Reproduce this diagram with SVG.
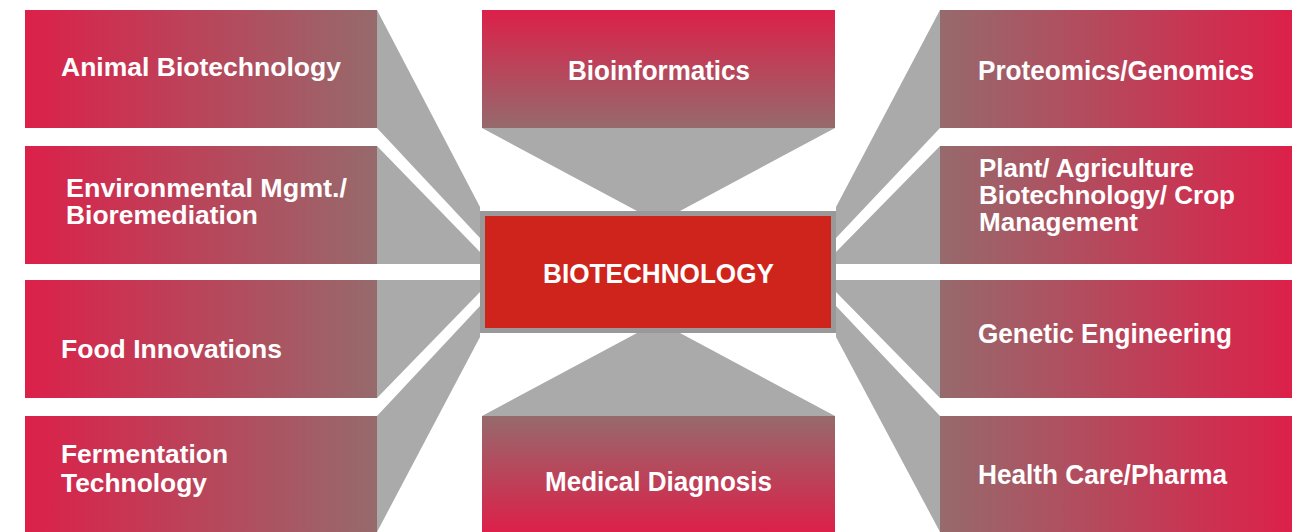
<svg xmlns="http://www.w3.org/2000/svg" width="1296" height="532" viewBox="0 0 1296 532">
  <defs>
    <linearGradient id="gL" x1="0" y1="0" x2="1" y2="0">
      <stop offset="0" stop-color="#DC2049"/>
      <stop offset="1" stop-color="#966A6C"/>
    </linearGradient>
    <linearGradient id="gR" x1="0" y1="0" x2="1" y2="0">
      <stop offset="0" stop-color="#966A6C"/>
      <stop offset="1" stop-color="#DC2049"/>
    </linearGradient>
    <linearGradient id="gT" x1="0" y1="0" x2="0" y2="1">
      <stop offset="0" stop-color="#DC2049"/>
      <stop offset="1" stop-color="#966A6C"/>
    </linearGradient>
    <linearGradient id="gB" x1="0" y1="0" x2="0" y2="1">
      <stop offset="0" stop-color="#966A6C"/>
      <stop offset="1" stop-color="#DC2049"/>
    </linearGradient>
    <style>
      .conn { fill: #AAAAAA; }
      .lbl { font-family: "Liberation Sans", Arial, sans-serif; font-weight: bold; fill: #FFFFFF; font-size: 26px; }
      .nar { font-size: 28px; }
      .ml { font-size: 25px; }
    </style>
  </defs>
  <rect width="1296" height="532" fill="#FFFFFF"/>

  <g id="connectors">
    <polygon class="conn" points="377,10 480,207 480,238 377,128"/>
    <polygon class="conn" points="377,146 480,252 480,264 377,264"/>
    <polygon class="conn" points="377,280 480,280 480,292 377,398"/>
    <polygon class="conn" points="377,416 480,306 480,337 377,532"/>
    <polygon class="conn" points="940,10 836,207 836,238 940,128"/>
    <polygon class="conn" points="940,146 836,252 836,264 940,264"/>
    <polygon class="conn" points="940,280 836,280 836,292 940,398"/>
    <polygon class="conn" points="940,416 836,306 836,337 940,532"/>
    <polygon class="conn" points="482,128 835,128 680,211 637,211"/>
    <polygon class="conn" points="637,333 680,333 835,416 482,416"/>
  </g>

  <g id="center">
    <rect x="482.5" y="213.5" width="351" height="117" fill="#CF241C" stroke="#999999" stroke-width="5"/>
    <text class="lbl nar" x="543" y="283" textLength="231" lengthAdjust="spacingAndGlyphs">BIOTECHNOLOGY</text>
  </g>

  <g id="animal">
    <rect x="25" y="10" width="352" height="118" fill="url(#gL)"/>
    <text class="lbl" x="61" y="76" textLength="280" lengthAdjust="spacingAndGlyphs">Animal Biotechnology</text>
  </g>
  <g id="environmental">
    <rect x="25" y="146" width="352" height="118" fill="url(#gL)"/>
    <text class="lbl ml" x="66" y="197" textLength="281" lengthAdjust="spacingAndGlyphs">Environmental Mgmt./</text>
    <text class="lbl ml" x="66" y="224" textLength="192" lengthAdjust="spacingAndGlyphs">Bioremediation</text>
  </g>
  <g id="food">
    <rect x="25" y="280" width="352" height="118" fill="url(#gL)"/>
    <text class="lbl" x="61" y="358" textLength="221" lengthAdjust="spacingAndGlyphs">Food Innovations</text>
  </g>
  <g id="fermentation">
    <rect x="25" y="416" width="352" height="116" fill="url(#gL)"/>
    <text class="lbl" x="61" y="463" textLength="167" lengthAdjust="spacingAndGlyphs">Fermentation</text>
    <text class="lbl" x="61" y="492" textLength="146" lengthAdjust="spacingAndGlyphs">Technology</text>
  </g>

  <g id="bioinformatics">
    <rect x="482" y="10" width="353" height="118" fill="url(#gT)"/>
    <text class="lbl nar" x="568" y="80" textLength="182" lengthAdjust="spacingAndGlyphs">Bioinformatics</text>
  </g>
  <g id="medical">
    <rect x="482" y="416" width="353" height="116" fill="url(#gB)"/>
    <text class="lbl nar" x="545" y="491" textLength="227" lengthAdjust="spacingAndGlyphs">Medical Diagnosis</text>
  </g>

  <g id="proteomics">
    <rect x="940" y="10" width="352" height="118" fill="url(#gR)"/>
    <text class="lbl nar" x="978" y="80" textLength="276" lengthAdjust="spacingAndGlyphs">Proteomics/Genomics</text>
  </g>
  <g id="plant">
    <rect x="940" y="146" width="352" height="118" fill="url(#gR)"/>
    <text class="lbl ml" x="979" y="177" textLength="215" lengthAdjust="spacingAndGlyphs">Plant/ Agriculture</text>
    <text class="lbl ml" x="979" y="204" textLength="256" lengthAdjust="spacingAndGlyphs">Biotechnology/ Crop</text>
    <text class="lbl ml" x="979" y="231" textLength="159" lengthAdjust="spacingAndGlyphs">Management</text>
  </g>
  <g id="genetic">
    <rect x="940" y="280" width="352" height="118" fill="url(#gR)"/>
    <text class="lbl nar" x="978" y="343" textLength="254" lengthAdjust="spacingAndGlyphs">Genetic Engineering</text>
  </g>
  <g id="healthcare">
    <rect x="940" y="416" width="352" height="116" fill="url(#gR)"/>
    <text class="lbl nar" x="978" y="484" textLength="249" lengthAdjust="spacingAndGlyphs">Health Care/Pharma</text>
  </g>
</svg>
